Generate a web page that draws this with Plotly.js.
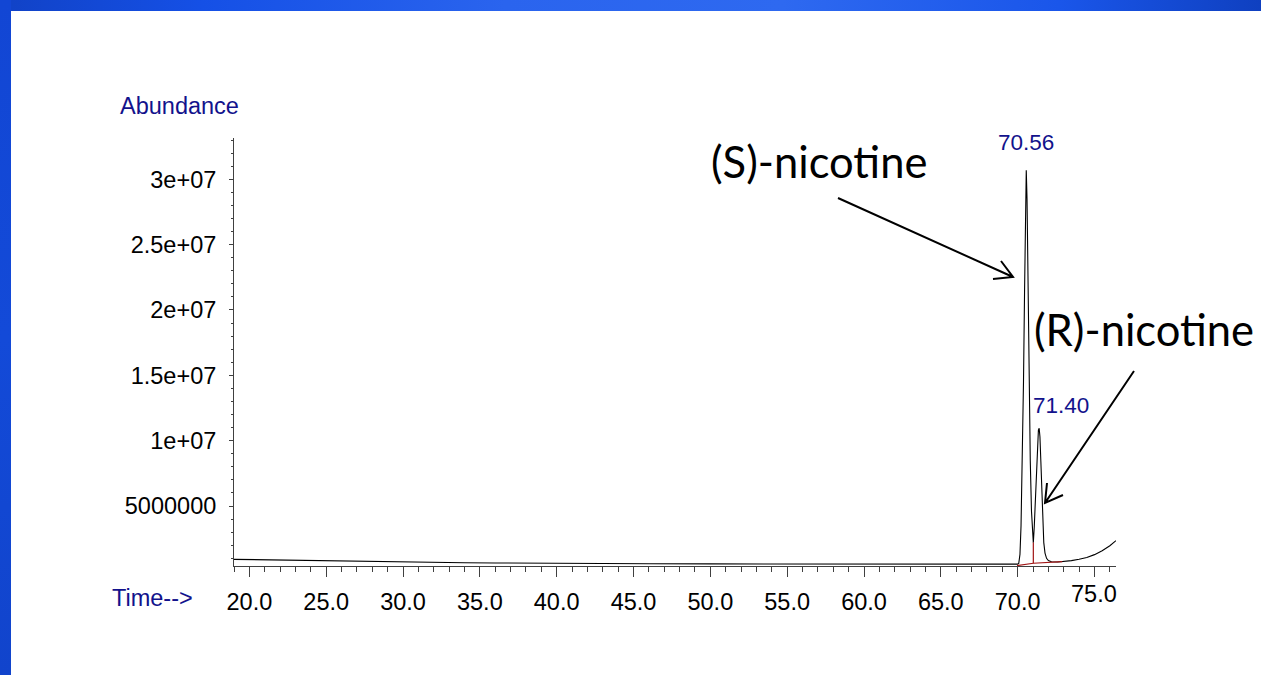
<!DOCTYPE html>
<html>
<head>
<meta charset="utf-8">
<script src="https://cdn.plot.ly/plotly-3.0.1.min.js"></script>
<style>
  html, body { margin: 0; padding: 0; background: #ffffff; overflow: hidden; }
  #frameTop {
    position: absolute; left: 0; top: 0; width: 1261px; height: 11px; z-index: 5;
    background: linear-gradient(to right, #1142c6 0%, #1550e6 16%, #2a64ee 40%, #2e69f0 62%, #1a56ea 84%, #0f40c0 100%);
  }
  #frameLeft {
    position: absolute; left: 0; top: 0; width: 11px; height: 675px; z-index: 5;
    background: linear-gradient(to bottom, #1246d4 0%, #134ad8 50%, #1144cc 100%);
  }
  #chart { position: absolute; left: 0; top: 0; width: 1261px; height: 675px; }
</style>
</head>
<body>
<div id="frameTop"></div>
<div id="frameLeft"></div>
<div id="chart"></div>
<script>
// Total ion chromatogram: retention time (min) vs abundance
const retentionTime = [
  19.0, 20.0, 22.0, 24.0, 26.0, 28.0, 30.0, 32.0, 34.0, 36.0, 38.0, 40.0,
  43.0, 46.0, 50.0, 55.0, 60.0, 65.0, 69.0, 70.0,
  70.07, 70.15, 70.22, 70.30, 70.38, 70.45, 70.51, 70.56, 70.61, 70.67,
  70.74, 70.82, 70.90, 70.97, 71.02,
  71.08, 71.15, 71.22, 71.29, 71.35, 71.40, 71.45, 71.51, 71.57, 71.63,
  71.70, 71.78, 71.88, 72.0, 72.2, 72.6, 73.0, 73.5, 74.0, 74.5, 75.0,
  75.5, 76.0, 76.4
];
const abundance = [
  0.92e6, 0.90e6, 0.86e6, 0.82e6, 0.78e6, 0.74e6, 0.70e6, 0.68e6, 0.66e6, 0.64e6, 0.62e6, 0.60e6,
  0.59e6, 0.58e6, 0.57e6, 0.56e6, 0.55e6, 0.55e6, 0.55e6, 0.55e6,
  0.60e6, 1.3e6, 3.5e6, 8.0e6, 14.5e6, 21.5e6, 27.5e6, 30.7e6, 28.5e6, 22.5e6,
  15.0e6, 8.5e6, 4.6e6, 2.7e6, 2.2e6,
  3.4e6, 5.6e6, 8.2e6, 10.2e6, 10.8e6, 10.95e6, 10.3e6, 8.4e6, 5.8e6, 3.6e6,
  2.2e6, 1.4e6, 1.0e6, 0.82e6, 0.74e6, 0.72e6, 0.75e6, 0.82e6, 0.93e6, 1.06e6, 1.28e6,
  1.58e6, 1.96e6, 2.35e6
];

// Integration baseline and valley drop line
const baselineTime = [69.96, 71.02, 72.9];
const baselineAbundance = [0.44e6, 0.62e6, 0.74e6];
const dropTime = [71.02, 71.02];
const dropAbundance = [0.62e6, 2.2e6];

// Peak labels
const peakTimes = [70.56, 71.40];
const peakLabels = ["70.56", "71.40"];
const peakHeights = [30.7e6, 10.95e6];

// Axis ticks
const xTickVals = [20, 25, 30, 35, 40, 45, 50, 55, 60, 65, 70, 75];
const xTickText = ["20.0", "25.0", "30.0", "35.0", "40.0", "45.0", "50.0", "55.0", "60.0", "65.0", "70.0", ""];
const xLastTick = 75;
const xLastTickText = "75.0";
const yTickVals = [5e6, 1e7, 1.5e7, 2e7, 2.5e7, 3e7];
const yTickText = ["5000000", "1e+07", "1.5e+07", "2e+07", "2.5e+07", "3e+07"];

const W = 1261, H = 675;
const M = { l: 234, r: 145, t: 138, b: 109 };
const PW = W - M.l - M.r, PH = H - M.t - M.b;
const px = x => (x - M.l) / PW;          // pixel -> paper x
const py = y => (H - M.b - y) / PH;      // pixel -> paper y

const NAVY = "#12128c";
const AXIS = "#404040";
const FONT = "Liberation Sans, Arial, sans-serif";
const TICK_SIZE = 23.5;

const traces = [
  {
    x: retentionTime, y: abundance, type: "scatter", mode: "lines",
    line: { color: "#000000", width: 1.1 }, hoverinfo: "skip"
  },
  {
    x: baselineTime, y: baselineAbundance, type: "scatter", mode: "lines",
    line: { color: "#a01414", width: 1.2 }, hoverinfo: "skip"
  },
  {
    x: dropTime, y: dropAbundance, type: "scatter", mode: "lines",
    line: { color: "#a01414", width: 1.2 }, hoverinfo: "skip"
  }
];

// open V arrows drawn as paths
function arrowPath(x0, y0, x1, y1, a1, a2) {
  return `M ${px(x0)} ${py(y0)} L ${px(x1)} ${py(y1)} ` +
         `M ${px(a1[0])} ${py(a1[1])} L ${px(x1)} ${py(y1)} L ${px(a2[0])} ${py(a2[1])}`;
}
const shapes = [
  { type: "path", xref: "paper", yref: "paper",
    path: arrowPath(838, 198, 1013, 277, [1001, 261], [993, 279]),
    line: { color: "#000000", width: 2 } },
  { type: "path", xref: "paper", yref: "paper",
    path: arrowPath(1134, 371, 1045, 503, [1063, 495], [1047, 483]),
    line: { color: "#000000", width: 2 } }
];

const annotations = [
  { text: "Abundance", xref: "paper", yref: "paper", x: px(118), y: py(106),
    xanchor: "left", yanchor: "middle", showarrow: false,
    font: { family: FONT, size: 23.5, color: NAVY } },
  { text: "Time-->", xref: "paper", yref: "paper", x: px(110), y: py(598),
    xanchor: "left", yanchor: "middle", showarrow: false,
    font: { family: FONT, size: 23.5, color: NAVY } },
  { text: xLastTickText, xref: "x", yref: "paper", x: xLastTick, y: py(594),
    xanchor: "center", yanchor: "middle", showarrow: false,
    font: { family: FONT, size: TICK_SIZE, color: "#000000" } },
  { text: peakLabels[0], xref: "x", yref: "y", x: peakTimes[0], y: peakHeights[0],
    xanchor: "center", yanchor: "bottom", yshift: 13, showarrow: false,
    font: { family: FONT, size: 22.5, color: NAVY } },
  { text: peakLabels[1], xref: "x", yref: "y", x: peakTimes[1], y: peakHeights[1],
    xanchor: "left", xshift: -8, yanchor: "bottom", yshift: 8, showarrow: false,
    font: { family: FONT, size: 22.5, color: NAVY } },
  { text: "(S)-nicotine", xref: "paper", yref: "paper", x: px(819), y: py(161),
    xanchor: "center", yanchor: "middle", showarrow: false,
    font: { family: "Lato, Carlito, sans-serif", size: 43.5, color: "#000000" } },
  { text: "(R)-nicotine", xref: "paper", yref: "paper", x: px(1144), y: py(329),
    xanchor: "center", yanchor: "middle", showarrow: false,
    font: { family: "Lato, Carlito, sans-serif", size: 43.5, color: "#000000" } }
];

const layout = {
  width: W, height: H,
  margin: M,
  paper_bgcolor: "rgba(0,0,0,0)",
  plot_bgcolor: "rgba(0,0,0,0)",
  showlegend: false,
  font: { family: FONT, size: TICK_SIZE, color: "#000000" },
  xaxis: {
    range: [19.0, 76.4],
    showgrid: false, zeroline: false,
    showline: true, linecolor: AXIS, linewidth: 1,
    ticks: "outside", ticklen: 10, tickcolor: AXIS, tickwidth: 1,
    tickmode: "array", tickvals: xTickVals, ticktext: xTickText,
    ticklabelstandoff: 5,
    minor: { ticks: "outside", ticklen: 5, tickcolor: AXIS, tickwidth: 1, tickmode: "linear", tick0: 0, dtick: 1 },
    tickfont: { family: FONT, size: TICK_SIZE, color: "#000000" }
  },
  yaxis: {
    range: [0.41e6, 33.16e6],
    showgrid: false, zeroline: false,
    showline: true, linecolor: AXIS, linewidth: 1,
    ticks: "outside", ticklen: 4, tickcolor: AXIS, tickwidth: 1,
    tickmode: "array", tickvals: yTickVals, ticktext: yTickText,
    ticklabelstandoff: 8,
    minor: { ticks: "outside", ticklen: 2, tickcolor: AXIS, tickwidth: 1, tickmode: "linear", tick0: 0, dtick: 1e6 },
    tickfont: { family: FONT, size: TICK_SIZE, color: "#000000" }
  },
  shapes: shapes,
  annotations: annotations
};

Plotly.newPlot("chart", traces, layout, { displayModeBar: false, staticPlot: true });
</script>
</body>
</html>
